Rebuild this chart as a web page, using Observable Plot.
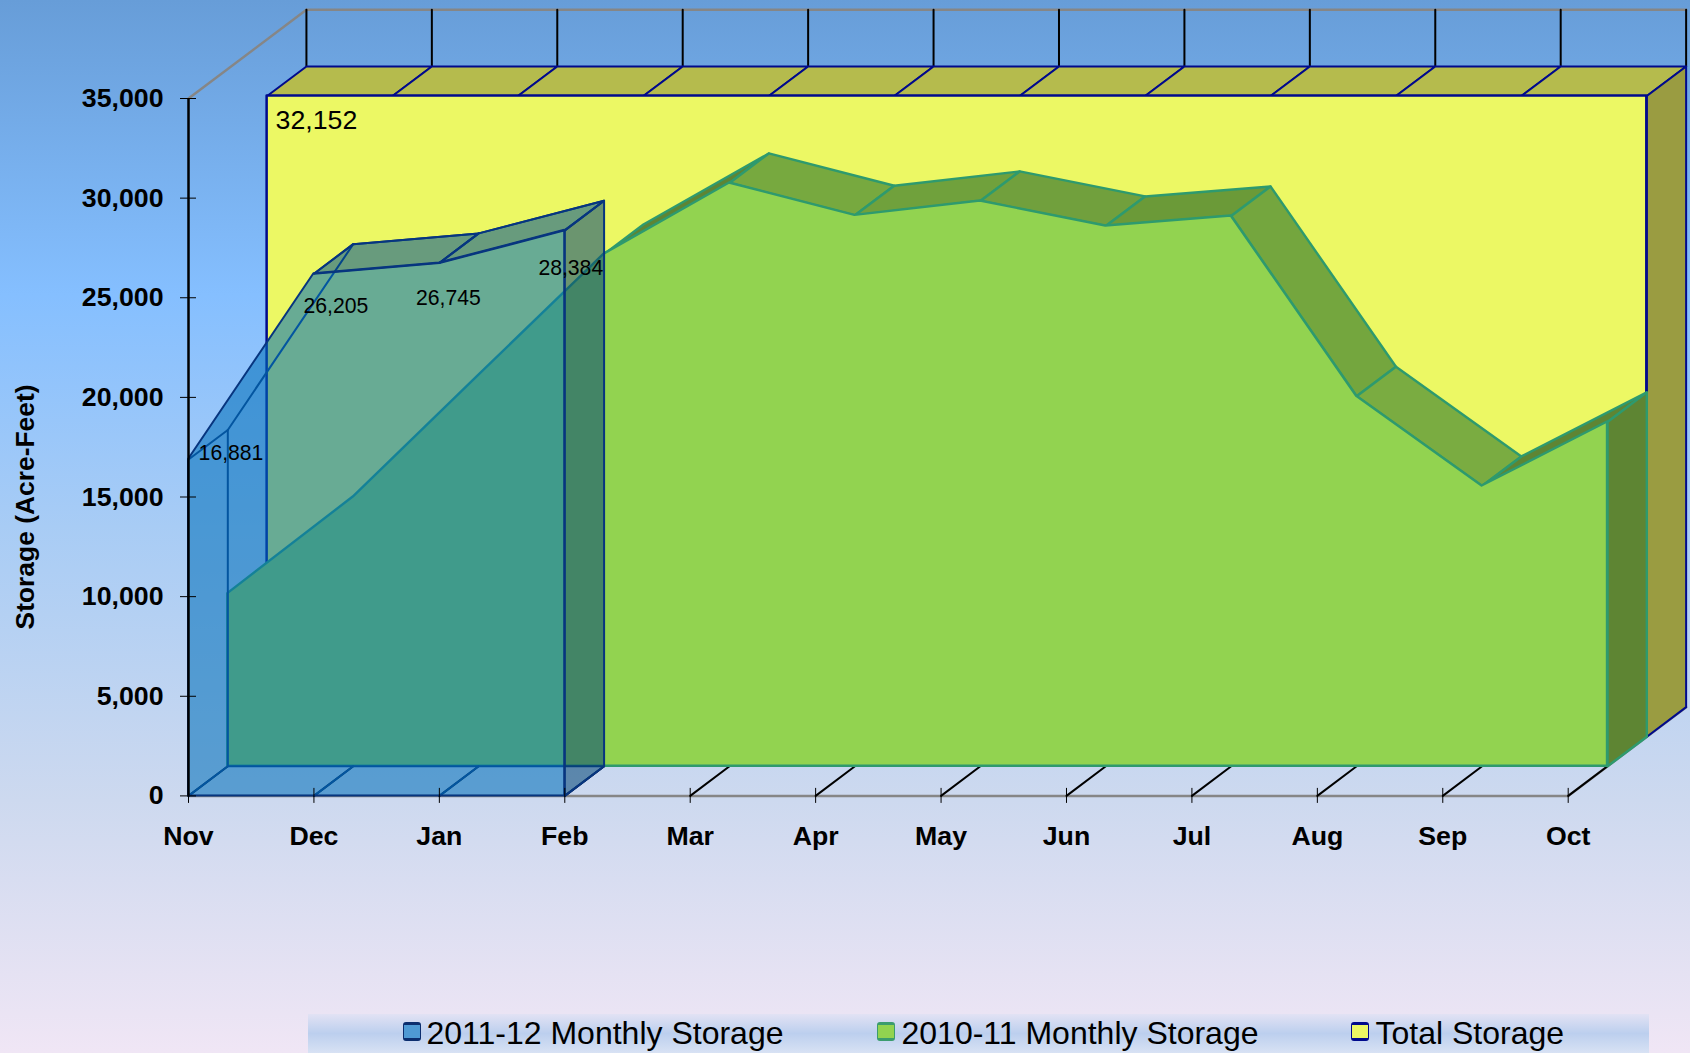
<!DOCTYPE html>
<html>
<head>
<meta charset="utf-8">
<script src="https://cdn.jsdelivr.net/npm/d3@7"></script>
<script src="https://cdn.jsdelivr.net/npm/@observablehq/plot@0.6"></script>
<style>
  html, body { margin: 0; padding: 0; width: 1690px; height: 1053px; overflow: hidden; }
  body { background: linear-gradient(180deg, #679dd8 0%, #85bfff 28%, #a8ccf5 50%, #cdd9ef 76%, #f0e6f5 100%); font-family: "Liberation Sans", Arial, sans-serif; }
  #chart svg { display: block; }
  #legend { position: relative; height: 41px; width: 1690px; }
  #band { position: absolute; left: 308px; width: 1341px; top: 2px; height: 39px;
          background: linear-gradient(180deg, #e2e2f4 0%, #bccfee 50%, #d8e2f4 100%); }
  .key { position: absolute; top: 10px; width: 16px; height: 13px; border-width: 3.5px 1.5px; border-style: solid; border-radius: 3px; }
  .lab { position: absolute; top: 3px; font-size: 32px; line-height: 36px; color: #000; white-space: nowrap; }
</style>
</head>
<body>
<div id="chart"></div>
<div id="legend"><div id="band"></div></div>
<script>
const months = ["Nov","Dec","Jan","Feb","Mar","Apr","May","Jun","Jul","Aug","Sep","Oct"];
const yTicks = [0,5000,10000,15000,20000,25000,30000,35000];
const storage2011 = [16881,26205,26745,28384];
const storage2010 = [8667,13515,19620,25705,29273,27652,28370,27115,27617,18569,14067,17280];
const totalStorage = [32152,32152,32152,32152,32152,32152,32152,32152,32152,32152,32152,32152];
const legendNames = ["2011-12 Monthly Storage","2010-11 Monthly Storage","Total Storage"];

// one layer of depth, in the units of the x (months) and y (acre-feet) scales
const DX = 0.3134, DY = 1485;
const pt = (i, v, layer) => ({x: i + layer * DX, y: v + layer * DY});
const visibleTop = (a, b) => (b - a) < DY / DX;

const BLUE = "#006eb9", BLUE_TOP = "#005291", BLUE_SIDE = "#054778", BLUE_LINE = "#07357f";
const GREEN = "#92d350", GREEN_LINE = "#2e9a6e", GREEN_DARK = "#5e8533";
const YELLOW = "#ecf864", YELLOW_TOP = "#b5bb4d", YELLOW_SIDE = "#9a9c41", YELLOW_LINE = "#000a8c";
const ALPHA = 0.56;
const greenTopShades = [GREEN_DARK,GREEN_DARK,GREEN_DARK,GREEN_DARK,"#77a93f","#70a13c","#71a03d","#6b9a38","#74a63e","#7aac41",GREEN_DARK];

const poly = (pts, o) => Plot.line(pts, {x: "x", y: "y", curve: "linear-closed", strokeLinejoin: "round", ...o});
const seg = (a, b, o) => Plot.line([a, b], {x: "x", y: "y", ...o});
const front = (vals, layer, o) => Plot.areaY(vals, {
  x: (d, i) => i + layer * DX,
  y1: () => layer * DY,
  y2: (d) => d + layer * DY,
  strokeLinejoin: "round",
  ...o
});

const marks = [];

// walls and floor
const gray = {stroke: "#868686", strokeWidth: 2.5};
marks.push(seg(pt(0, 35000, 0), pt(0, 35000, 3), gray));
marks.push(seg(pt(0, 35000, 3), pt(11, 35000, 3), gray));
marks.push(seg(pt(0, 0, 0), pt(11, 0, 0), gray));
marks.push(seg(pt(11, 0, 0), pt(11, 0, 3), gray));
months.forEach((m, i) => {
  marks.push(seg(pt(i, 35000, 3), pt(i, totalStorage[i], 3), {stroke: "#000", strokeWidth: 2}));
  marks.push(seg(pt(i, 0, 0), pt(i, 0, 1), {stroke: "#000", strokeWidth: 2}));
});

// total storage block
{
  const n = totalStorage.length - 1, v = totalStorage;
  const st = {stroke: YELLOW_LINE, strokeWidth: 2};
  for (let i = 0; i < n; i++) {
    marks.push(poly([pt(i, v[i], 2), pt(i + 1, v[i + 1], 2), pt(i + 1, v[i + 1], 3), pt(i, v[i], 3)], {fill: YELLOW_TOP, ...st}));
  }
  marks.push(poly([pt(n, 0, 2), pt(n, 0, 3), pt(n, v[n], 3), pt(n, v[n], 2)], {fill: YELLOW_SIDE, ...st}));
  marks.push(front(v, 2, {fill: YELLOW, ...st, strokeWidth: 2.5}));
}

// 2010-11 block
{
  const v = storage2010, n = v.length - 1;
  const st = {stroke: GREEN_LINE, strokeWidth: 2.4};
  for (let i = 0; i < n; i++) {
    if (visibleTop(v[i], v[i + 1])) {
      marks.push(poly([pt(i, v[i], 1), pt(i + 1, v[i + 1], 1), pt(i + 1, v[i + 1], 2), pt(i, v[i], 2)], {fill: greenTopShades[i], ...st}));
    }
  }
  marks.push(poly([pt(n, 0, 1), pt(n, 0, 2), pt(n, v[n], 2), pt(n, v[n], 1)], {fill: GREEN_DARK, ...st}));
  marks.push(front(v, 1, {fill: GREEN, ...st}));
}

// 2011-12 block, see-through
{
  const v = storage2011, n = v.length - 1;
  const st = {stroke: BLUE_LINE, strokeWidth: 2};
  // hidden edges
  marks.push(Plot.line(v, {x: (d, i) => i + DX, y: (d) => d + DY, ...st}));
  marks.push(seg(pt(0, 0, 1), pt(n, 0, 1), st));
  marks.push(seg(pt(0, 0, 1), pt(0, v[0], 1), st));
  v.forEach((d, i) => {
    marks.push(seg(pt(i, 0, 0), pt(i, 0, 1), st));
    marks.push(seg(pt(i, d, 0), pt(i, d, 1), st));
  });
  marks.push(front(v, 0, {fill: BLUE, fillOpacity: ALPHA, stroke: "none"}));
  for (let i = 0; i < n; i++) {
    if (visibleTop(v[i], v[i + 1])) {
      marks.push(poly([pt(i, v[i], 0), pt(i + 1, v[i + 1], 0), pt(i + 1, v[i + 1], 1), pt(i, v[i], 1)], {fill: BLUE_TOP, fillOpacity: ALPHA, ...st}));
    }
  }
  marks.push(poly([pt(n, 0, 0), pt(n, 0, 1), pt(n, v[n], 1), pt(n, v[n], 0)], {fill: BLUE_SIDE, fillOpacity: ALPHA, ...st}));
  marks.push(front(v, 0, {fill: "none", ...st}));
}

// axes
marks.push(Plot.ruleX([0], {stroke: "#000", strokeWidth: 2.5}));
marks.push(Plot.axisY({ticks: yTicks, tickFormat: d3.format(","), tickSize: 16, dx: 8, tickPadding: 17, fontSize: 26.7, fontWeight: "bold", label: null, strokeWidth: 1, fill: "#000", stroke: "#000"}));
marks.push(Plot.axisX({ticks: months.map((m, i) => i), tickFormat: (i) => months[i], tickSize: 15, dy: -7.5, tickPadding: 23, fontSize: 26.7, fontWeight: "bold", label: null, strokeWidth: 1, fill: "#000", stroke: "#000"}));
marks.push(Plot.text(["Storage (Acre-Feet)"], {x: -1.3, y: 14500, rotate: -90, fontSize: 26.4, fontWeight: "bold", fill: "#000"}));

// value labels
const valueLabel = (i, dx, dy) => Plot.text([storage2011[i]], {x: () => i, y: (d) => d, text: (d) => d3.format(",")(d), fontSize: 21.2, fill: "#000", dx, dy});
marks.push(valueLabel(0, 42.5, -6));
marks.push(valueLabel(1, 22, 32));
marks.push(valueLabel(2, 9, 35));
marks.push(valueLabel(3, 6, 37.7));
marks.push(Plot.text([totalStorage[0]], {x: () => 2 * DX, y: (d) => d + 2 * DY, text: (d) => d3.format(",")(d), fontSize: 26.7, textAnchor: "start", fill: "#000", dx: 8.5, dy: 24}));

const plot = Plot.plot({
  width: 1690,
  height: 1012,
  marginLeft: 188,
  marginRight: 122.3,
  marginTop: 98,
  marginBottom: 216.6,
  style: {background: "transparent", fontFamily: "'Liberation Sans', Arial, sans-serif", overflow: "visible"},
  x: {domain: [0, 11], axis: null},
  y: {domain: [0, 35000], axis: null},
  marks
});
document.getElementById("chart").appendChild(plot);

// legend
const legend = document.getElementById("legend");
const keyStyles = [["#4f9ad4", "#0c2e6e", 402.5, 426.5], [GREEN, "#3b9c6e", 876.5, 901.5], [YELLOW, YELLOW_LINE, 1351, 1375.5]];
legendNames.forEach((name, i) => {
  const [fill, border, kx, tx] = keyStyles[i];
  const k = document.createElement("div");
  k.className = "key";
  k.style.cssText = `left:${kx}px;background:${fill};border-color:${border}`;
  legend.appendChild(k);
  const t = document.createElement("div");
  t.className = "lab";
  t.style.left = tx + "px";
  t.textContent = name;
  legend.appendChild(t);
});
</script>
</body>
</html>
